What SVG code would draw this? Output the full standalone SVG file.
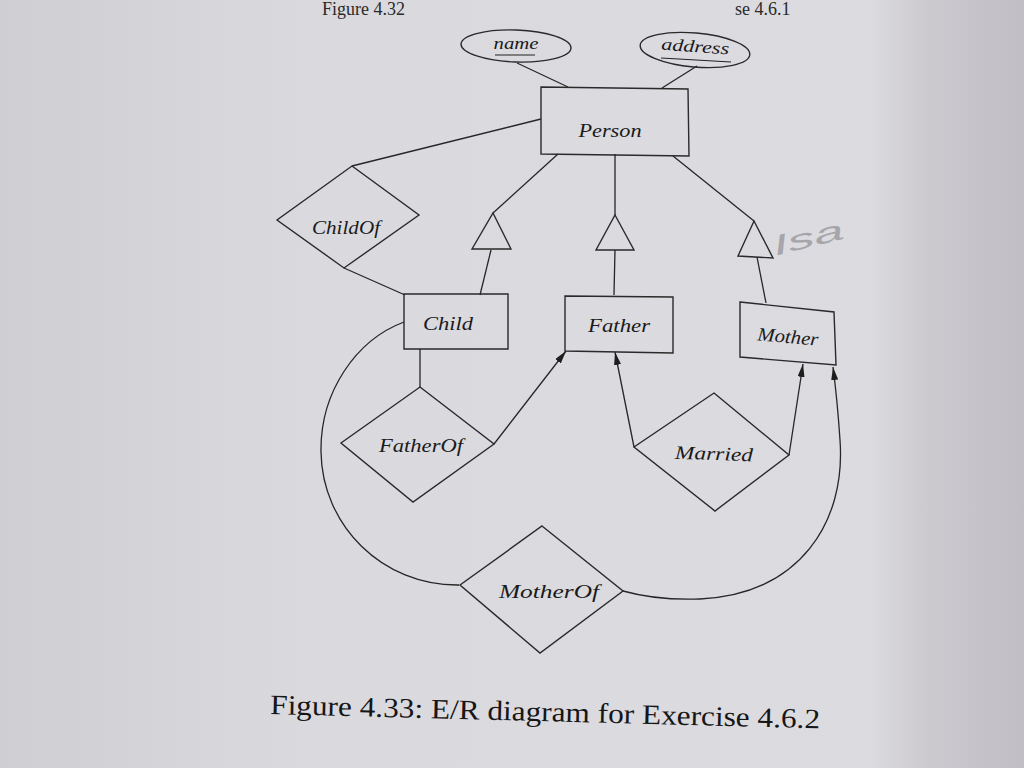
<svg xmlns="http://www.w3.org/2000/svg" width="1024" height="768" viewBox="0 0 1024 768">
<defs>
<linearGradient id="bg" x1="0" y1="0" x2="1" y2="0">
<stop offset="0" stop-color="#cfced3"/>
<stop offset="0.3" stop-color="#dad9de"/>
<stop offset="0.85" stop-color="#dcdbe0"/>
<stop offset="0.9" stop-color="#cdcbd0"/>
<stop offset="1" stop-color="#c0bec4"/>
</linearGradient>
<marker id="arr" viewBox="0 0 13 7" refX="13" refY="3.5" markerWidth="13" markerHeight="7" markerUnits="userSpaceOnUse" orient="auto">
<path d="M0,0 L13,3.5 L0,7 Z" fill="#1e1e1e"/>
</marker>
<style>
.ln{fill:none;stroke:#262626;stroke-width:1.3}
.sh{fill:none;stroke:#2a2a2a;stroke-width:1.4}
.lb{font-family:"Liberation Serif",serif;font-style:italic;font-size:19px;fill:#1a1a1a;text-anchor:middle}
.at{font-family:"Liberation Serif",serif;font-style:italic;font-size:17px;fill:#1a1a1a;text-anchor:middle}
.ul{fill:none;stroke:#222;stroke-width:1.2}
.hd{font-family:"Liberation Serif",serif;font-size:18px;fill:#2a2a2a}
</style>
</defs>
<rect x="0" y="0" width="1024" height="768" fill="url(#bg)"/>
<text class="hd" x="322" y="15">Figure 4.32</text>
<text class="hd" x="735" y="15">se 4.6.1</text>

<g id="connectors">
<line class="ln" x1="517" y1="63" x2="568" y2="87"/>
<line class="ln" x1="697" y1="66" x2="662" y2="88"/>
<line class="ln" x1="541" y1="119" x2="352" y2="166"/>
<line class="ln" x1="344" y1="268" x2="405" y2="295"/>
<line class="ln" x1="558" y1="154" x2="493" y2="213"/>
<line class="ln" x1="491" y1="250" x2="480" y2="295"/>
<line class="ln" x1="615" y1="154" x2="615" y2="215"/>
<line class="ln" x1="615" y1="250" x2="614" y2="295"/>
<line class="ln" x1="673" y1="156" x2="754" y2="221"/>
<line class="ln" x1="757" y1="257" x2="766" y2="303"/>
<line class="ln" x1="420" y1="349" x2="420" y2="387"/>
<line class="ln" x1="494" y1="444" x2="566" y2="351" marker-end="url(#arr)"/>
<line class="ln" x1="634" y1="447" x2="615" y2="352" marker-end="url(#arr)"/>
<line class="ln" x1="789" y1="455" x2="803" y2="364" marker-end="url(#arr)"/>
<path class="ln" d="M459,585 C382,586 322,525 321,452 C320,392 356,340 404,322"/>
<path class="ln" d="M623,591 C648,598 672,600 700,599 C800,594 846,522 840,440 C838,410 836,390 833,367" marker-end="url(#arr)"/>
</g>

<g id="name">
<ellipse class="sh" cx="516" cy="46" rx="55" ry="16" transform="rotate(2 516 46)"/>
<text class="at" x="516" y="49" textLength="45" lengthAdjust="spacingAndGlyphs">name</text>
<line class="ul" x1="495" y1="55" x2="535" y2="55"/>
</g>
<g id="address">
<ellipse class="sh" cx="695" cy="50" rx="55" ry="17" transform="rotate(5 695 50)"/>
<text class="at" x="695" y="52" textLength="68" lengthAdjust="spacingAndGlyphs" transform="rotate(4 695 50)">address</text>
<line class="ul" x1="661" y1="58" x2="731" y2="62"/>
</g>
<g id="Person">
<path class="sh" d="M541,87 L688,89 L689,156 L541,154 Z"/>
<text class="lb" x="610" y="137" textLength="63" lengthAdjust="spacingAndGlyphs">Person</text>
</g>
<g id="ChildOf">
<path class="sh" d="M352,166 L419,215 L344,268 L277,220 Z"/>
<text class="lb" x="346" y="234" font-size="18" textLength="68" lengthAdjust="spacingAndGlyphs">ChildOf</text>
</g>
<g id="isa-child">
<path class="sh" d="M493,213 L511,249 L472,249 Z"/>
</g>
<g id="isa-father">
<path class="sh" d="M615,215 L634,250 L596,250 Z"/>
</g>
<g id="isa-mother">
<path class="sh" d="M754,221 L773,258 L738,256 Z"/>
</g>
<g id="Child">
<path class="sh" d="M404,294 L508,294 L508,349 L404,349 Z"/>
<text class="lb" x="448" y="330" textLength="50" lengthAdjust="spacingAndGlyphs">Child</text>
</g>
<g id="Father">
<path class="sh" d="M565,296 L673,297 L673,353 L565,351 Z"/>
<text class="lb" x="619" y="332" textLength="62" lengthAdjust="spacingAndGlyphs">Father</text>
</g>
<g id="Mother">
<path class="sh" d="M740,302 L834,312 L836,365 L740,357 Z"/>
<text class="lb" x="788" y="343" textLength="61" lengthAdjust="spacingAndGlyphs" transform="rotate(5 788 337)">Mother</text>
</g>
<g id="FatherOf">
<path class="sh" d="M420,387 L494,444 L413,502 L341,443 Z"/>
<text class="lb" x="421" y="452" textLength="84" lengthAdjust="spacingAndGlyphs">FatherOf</text>
</g>
<g id="Married">
<path class="sh" d="M714,393 L789,455 L715,511 L634,447 Z"/>
<text class="lb" x="714" y="460" textLength="78" lengthAdjust="spacingAndGlyphs" transform="rotate(2 714 454)">Married</text>
</g>
<g id="MotherOf">
<path class="sh" d="M542,526 L623,591 L540,653 L460,585 Z"/>
<text class="lb" x="549" y="598" textLength="100" lengthAdjust="spacingAndGlyphs">MotherOf</text>
</g>
<text x="772" y="248" style="font-family:'Liberation Sans',sans-serif;font-style:italic;font-size:28px;fill:#a6a5ab" textLength="72" lengthAdjust="spacingAndGlyphs" transform="rotate(-14 805 238)">Isa</text>

<text x="270" y="714" style="font-family:'Liberation Serif',serif;font-size:28px;fill:#161616" textLength="550" lengthAdjust="spacingAndGlyphs" transform="rotate(1.5 270 714)">Figure 4.33: E/R diagram for Exercise 4.6.2</text>
</svg>
